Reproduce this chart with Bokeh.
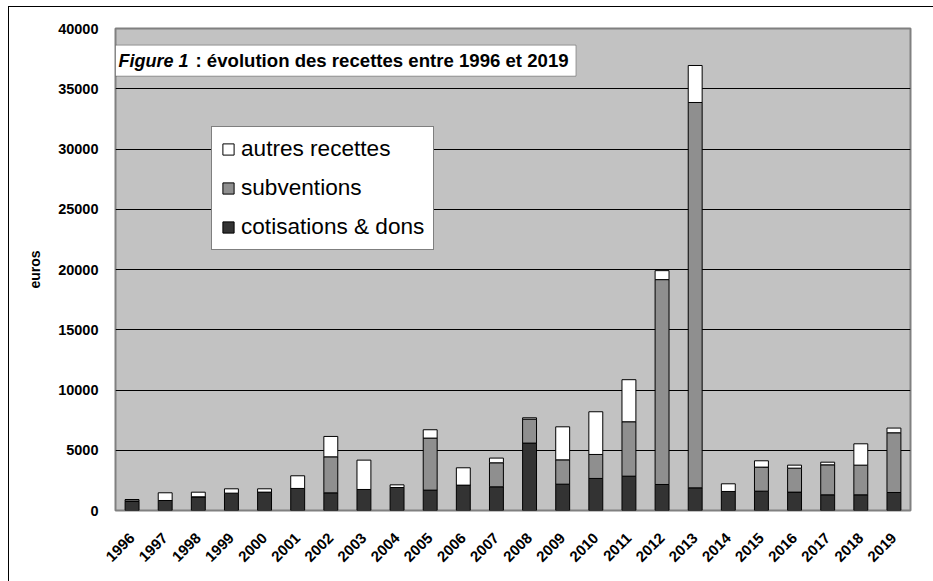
import math
from bokeh.plotting import figure
from bokeh.models import (ColumnDataSource, Legend, LegendItem, BoxAnnotation, Label,
                          FixedTicker, Range1d)
from bokeh.embed import file_html
from bokeh.resources import INLINE

years = list(range(1996, 2020))
year_labels = [str(y) for y in years]
cotisations = [750, 830, 1135, 1440, 1525, 1830, 1465, 1745, 1910, 1690, 2105, 1965,
               5595, 2185, 2660, 2850, 2160, 1880, 1580, 1605, 1525, 1300, 1300, 1495]
subventions = [150, 0, 0, 0, 0, 0, 2990, 0, 0, 4320, 0, 1995,
               1990, 2020, 1990, 4515, 17000, 31980, 0, 1995, 1990, 2490, 2465, 4955]
autres = [0, 640, 385, 360, 275, 1050, 1690, 2435, 220, 690, 1440, 390,
          110, 2740, 3545, 3490, 745, 3070, 635, 525, 250, 220, 1770, 390]
series = ["cotisations", "subventions", "autres"]
series_names = ["cotisations & dons", "subventions", "autres recettes"]
colors = ["#333333", "#8f8f8f", "#ffffff"]
y_ticks = [0, 5000, 10000, 15000, 20000, 25000, 30000, 35000, 40000]

src = ColumnDataSource(dict(x=years, cotisations=cotisations, subventions=subventions, autres=autres))

FONT = "Liberation Sans"

p = figure(width=940, height=585, output_backend="svg", toolbar_location=None,
           x_range=Range1d(1995.5, 2019.5), y_range=Range1d(0, 40000),
           min_border_left=106, min_border_right=39, min_border_top=21, min_border_bottom=82)
p.styles = {"border-left": "1px solid #000000", "border-top": "1px solid #000000",
            "margin-left": "8px", "margin-top": "6px"}
p.background_fill_color = "#c2c2c2"
p.border_fill_color = "#ffffff"
p.outline_line_color = "#808080"
p.outline_line_width = 2

renderers = p.vbar_stack(series, x="x", width=0.42, source=src, fill_color=colors,
                         line_color="#000000", line_width=1)

# axes
p.xaxis.ticker = FixedTicker(ticks=years)
p.xaxis.major_label_overrides = {y: l for y, l in zip(years, year_labels)}
p.xaxis.major_label_orientation = math.pi / 4
p.yaxis.ticker = FixedTicker(ticks=y_ticks)
for ax in (p.xaxis, p.yaxis):
    ax.axis_line_color = None
    ax.major_tick_line_color = None
    ax.minor_tick_line_color = None
    ax.major_label_text_font = FONT
    ax.major_label_text_font_style = "bold"
    ax.major_label_text_font_size = "14.5px"
    ax.major_label_text_color = "#000000"
p.xaxis.major_label_text_font_size = "15px"
p.yaxis.major_label_standoff = 11
p.xaxis.major_label_standoff = 19
p.yaxis.axis_label = "euros"
p.yaxis.axis_label_text_font = FONT
p.yaxis.axis_label_text_font_style = "bold"
p.yaxis.axis_label_text_font_size = "14px"
p.yaxis.axis_label_text_color = "#000000"
p.yaxis.axis_label_standoff = 12

p.xgrid.grid_line_color = None
p.ygrid.grid_line_color = "#000000"
p.ygrid.grid_line_width = 1

# title box
p.add_layout(BoxAnnotation(left=1995.5, right=2009.4, bottom=36050, top=38620,
                           fill_color="#ffffff", fill_alpha=1, line_color="#000000",
                           line_width=1, level="overlay"))
p.add_layout(Label(x=1995.5, y=37335, x_offset=3, text="Figure 1", text_font=FONT,
                   text_font_style="bold italic", text_font_size="18px",
                   text_baseline="middle", text_color="#000000", level="overlay"))
p.add_layout(Label(x=1995.5, y=37335, x_offset=80,
                   text=": évolution des recettes entre 1996 et 2019", text_font=FONT,
                   text_font_style="bold", text_font_size="18.6px",
                   text_baseline="middle", text_color="#000000", level="overlay"))

# legend
items = [LegendItem(label=series_names[i], renderers=[renderers[i]]) for i in (2, 1, 0)]
legend = Legend(items=items, location=(96, 260), orientation="vertical")
legend.label_text_font = FONT
legend.label_text_font_size = "22.6px"
legend.label_text_color = "#000000"
legend.glyph_width = 14
legend.glyph_height = 14
legend.label_height = 20
legend.spacing = 13
legend.padding = 9
legend.margin = 0
legend.label_standoff = 6
legend.border_line_color = "#000000"
legend.border_line_width = 1
legend.background_fill_color = "#ffffff"
legend.background_fill_alpha = 1
p.add_layout(legend, "center")

html = file_html(p, INLINE)
html = html.replace("<head>", "<head><style>html,body{overflow:hidden;}</style>", 1)
open("out.html", "w").write(html)
